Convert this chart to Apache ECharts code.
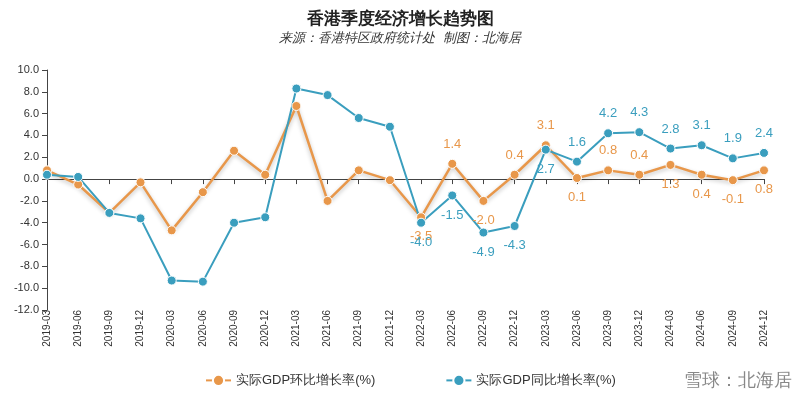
<!DOCTYPE html><html><head><meta charset="utf-8"><script src="https://cdn.jsdelivr.net/npm/echarts@6/dist/echarts.min.js"></script></head><body style="margin:0"><div id="c" style="width:800px;height:400px"></div><script>
const categories=['2019-03','2019-06','2019-09','2019-12','2020-03','2020-06','2020-09','2020-12','2021-03','2021-06','2021-09','2021-12','2022-03','2022-06','2022-09','2022-12','2023-03','2023-06','2023-09','2023-12','2024-03','2024-06','2024-09','2024-12'];
const qoq=[0.8,-0.5,-3.1,-0.3,-4.7,-1.2,2.6,0.4,6.7,-2.0,0.8,-0.1,-3.5,1.4,-2.0,0.4,3.1,0.1,0.8,0.4,1.3,0.4,-0.1,0.8];
const yoy=[0.4,0.2,-3.1,-3.6,-9.3,-9.4,-4.0,-3.5,8.3,7.7,5.6,4.8,-4.0,-1.5,-4.9,-4.3,2.7,1.6,4.2,4.3,2.8,3.1,1.9,2.4];
const yTicks=[-12,10,2];
const qoqBelow=new Set([12,14,17,20,21,22,23]);
const yoyBelow=new Set([12,13,14,15,16]);
const mk=(arr,below,color)=>arr.map((v,i)=>({value:v,label:{show:i>=12,position:below.has(i)?'bottom':'top',color:color,fontSize:13,distance:8,formatter:p=>p.value.toFixed(1)}}));
const O='#E8974A',B='#3A9EBE';
const ch=echarts.init(document.getElementById('c'));
ch.setOption({backgroundColor:'#fff',
title:{text:'香港季度经济增长趋势图',subtext:'来源：香港特区政府统计处  制图：北海居',left:'center',top:6,itemGap:4,textStyle:{fontSize:17,fontWeight:'bold',color:'#222'},subtextStyle:{fontSize:13,fontStyle:'italic',color:'#333'}},
grid:{left:47,right:36,top:70,bottom:90},
legend:{bottom:8,left:200,itemGap:70,textStyle:{fontSize:13,color:'#333'},data:['实际GDP环比增长率(%)','实际GDP同比增长率(%)']},
xAxis:{type:'category',data:categories,boundaryGap:false,axisLine:{onZero:true,lineStyle:{color:'#444'}},axisTick:{show:true,alignWithLabel:true,lineStyle:{color:'#444'}},axisLabel:{rotate:90,fontSize:10,color:'#333',margin:0,interval:0,padding:[0,0,0,0]},position:'bottom',offset:0},
yAxis:{type:'value',min:yTicks[0],max:yTicks[1],interval:yTicks[2],axisLine:{show:true,lineStyle:{color:'#444'}},axisTick:{show:true},splitLine:{show:false},axisLabel:{formatter:v=>v.toFixed(1),fontSize:11,color:'#333'}},
series:[
{name:'实际GDP环比增长率(%)',type:'line',data:mk(qoq,qoqBelow,O),color:O,symbol:'circle',symbolSize:9,lineStyle:{width:2.5,color:O,shadowColor:'rgba(0,0,0,0.25)',shadowBlur:4,shadowOffsetY:2},itemStyle:{color:O,borderColor:'#fff',borderWidth:1}},
{name:'实际GDP同比增长率(%)',type:'line',data:mk(yoy,yoyBelow,B),color:B,symbol:'circle',symbolSize:9,lineStyle:{width:2,color:B},itemStyle:{color:B,borderColor:'#fff',borderWidth:1}}
],
graphic:[{type:'text',right:8,bottom:10,style:{text:'雪球：北海居',fontSize:18,fill:'#888'}}]
});
</script></body></html>
